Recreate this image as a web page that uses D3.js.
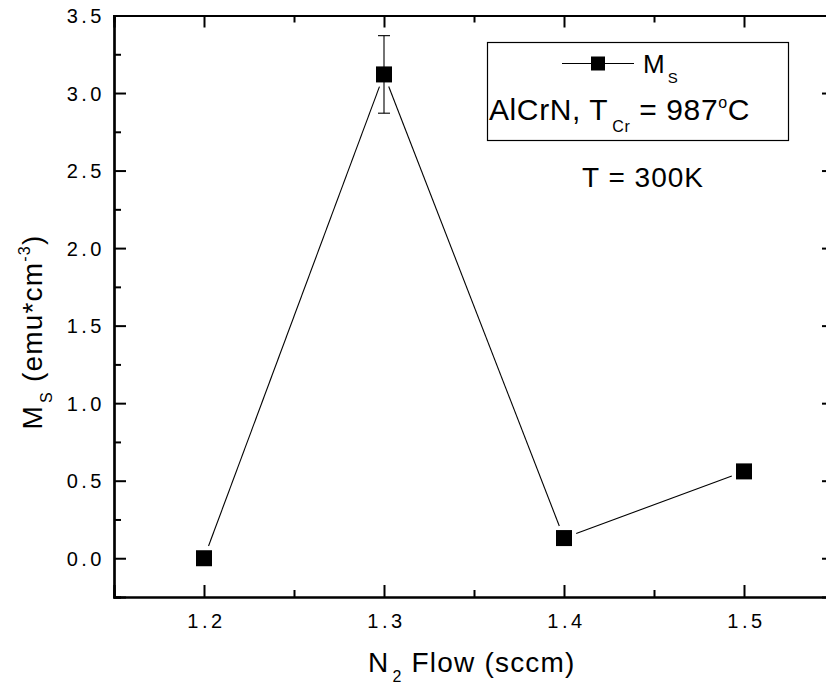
<!DOCTYPE html>
<html><head><meta charset="utf-8">
<script src="https://cdn.jsdelivr.net/npm/d3@7"></script>
<style>body{margin:0;background:#fff}text{font-family:"Liberation Sans",Arial,sans-serif;fill:#000}</style>
</head><body><svg id="c" width="826" height="687"></svg>
<script>
const flows = [1.2, 1.3, 1.4, 1.5];
const ms = [0.0, 3.12, 0.13, 0.56];
const msErr = [0, 0.25, 0, 0];
const xTicks = [1.2, 1.3, 1.4, 1.5];
const yTicks = [0.0, 0.5, 1.0, 1.5, 2.0, 2.5, 3.0, 3.5];

const svg = d3.select("#c");
const L = 114, R = 834, T = 15.5, B = 597;
const x = d3.scaleLinear().domain([1.15, 1.55]).range([L, R]);
const y = d3.scaleLinear().domain([-0.25, 3.5]).range([B, T]);
const FF = "'Liberation Sans',Arial,sans-serif";

const g = svg.append("g");
const ax = g.append("g").attr("transform", `translate(0,${B})`)
  .call(d3.axisBottom(x).tickValues(xTicks).tickFormat(d3.format(".1f")).tickSize(-12).tickPadding(0));
g.append("g").attr("transform", `translate(0,${T})`)
  .call(d3.axisTop(x).tickValues(xTicks).tickFormat("").tickSize(-12));
const ay = g.append("g").attr("transform", `translate(${L},0)`)
  .call(d3.axisLeft(y).tickValues(yTicks).tickFormat(d3.format(".1f")).tickSize(-12).tickPadding(0));
g.append("g").attr("transform", `translate(${R},0)`)
  .call(d3.axisRight(y).tickValues(yTicks).tickFormat("").tickSize(-12));
const xMinor = [1.25, 1.35, 1.45];
const yMinor = [-0.25, 0.25, 0.75, 1.25, 1.75, 2.25, 2.75, 3.25];
g.append("g").attr("transform", `translate(0,${B})`).call(d3.axisBottom(x).tickValues(xMinor).tickFormat("").tickSize(-7));
g.append("g").attr("transform", `translate(0,${T})`).call(d3.axisTop(x).tickValues(xMinor).tickFormat("").tickSize(-7));
g.append("g").attr("transform", `translate(${L},0)`).call(d3.axisLeft(y).tickValues(yMinor).tickFormat("").tickSize(-7));
g.append("g").attr("transform", `translate(${R},0)`).call(d3.axisRight(y).tickValues(yMinor).tickFormat("").tickSize(-7));
g.selectAll(".domain").attr("stroke", "#000").attr("stroke-width", 2.2);
g.selectAll(".tick line").attr("stroke", "#000").attr("stroke-width", 2);
g.selectAll("g").attr("font-size", null).attr("font-family", null);
ax.selectAll(".tick text").attr("y", 0).attr("dy", 0).attr("transform", "translate(2,31)")
  .style("font-size", "20px").style("letter-spacing", "3.5px").style("font-family", FF);
ay.selectAll(".tick text").attr("x", 0).attr("dy", 0).attr("transform", "translate(-9,7)")
  .style("font-size", "20px").style("letter-spacing", "3.5px").style("font-family", FF);

// data line with gaps
const pts = flows.map((f, i) => [x(f), y(ms[i])]);
const gap = 13;
for (let i = 0; i < pts.length - 1; i++) {
  const [x1, y1] = pts[i], [x2, y2] = pts[i + 1];
  const d = Math.hypot(x2 - x1, y2 - y1), ux = (x2 - x1) / d, uy = (y2 - y1) / d;
  svg.append("line").attr("x1", x1 + ux * gap).attr("y1", y1 + uy * gap)
    .attr("x2", x2 - ux * gap).attr("y2", y2 - uy * gap)
    .attr("stroke", "#000").attr("stroke-width", 1.1);
}
flows.forEach((f, i) => {
  if (!msErr[i]) return;
  const cx = x(f), t = y(ms[i] + msErr[i]), b = y(ms[i] - msErr[i]);
  svg.append("line").attr("x1", cx).attr("x2", cx).attr("y1", t).attr("y2", b).attr("stroke", "#000").attr("stroke-width", 1.1);
  [t, b].forEach(yy => svg.append("line").attr("x1", cx - 6).attr("x2", cx + 6).attr("y1", yy).attr("y2", yy).attr("stroke", "#000").attr("stroke-width", 1.1));
});
svg.selectAll("rect.m").data(flows).enter().append("rect")
  .attr("x", (d, i) => x(d) - 8).attr("y", (d, i) => y(ms[i]) - 8)
  .attr("width", 16).attr("height", 16).attr("fill", "#000");

// legend box
svg.append("rect").attr("x", 487.5).attr("y", 42.5).attr("width", 301).attr("height", 98)
  .attr("fill", "none").attr("stroke", "#000").attr("stroke-width", 1.2);
svg.append("line").attr("x1", 562).attr("x2", 634).attr("y1", 63.5).attr("y2", 63.5).attr("stroke", "#000").attr("stroke-width", 1.1);
svg.append("rect").attr("x", 591).attr("y", 56.5).attr("width", 14).attr("height", 14).attr("fill", "#000");
const lt = svg.append("text").attr("x", 643).attr("y", 73).style("font-size", "26px");
lt.append("tspan").text("M");
lt.append("tspan").attr("dy", 10).attr("dx", 3).style("font-size", "15px").text("S");
const t2 = svg.append("text").attr("x", 489).attr("y", 120).style("font-size", "30px").style("letter-spacing", "0.6px");
t2.append("tspan").text("AlCrN, T");
t2.append("tspan").attr("dy", 12).attr("dx", 4).style("font-size", "16px").text("Cr");
t2.append("tspan").attr("dy", -12).text(" = 987");
t2.append("tspan").attr("dy", -12).style("font-size", "16px").text("o");
t2.append("tspan").attr("dy", 12).text("C");
svg.append("text").attr("x", 643).attr("y", 187).attr("text-anchor", "middle").style("font-size", "28px").style("letter-spacing", "1px").text("T = 300K");

// axis titles
const xt = svg.append("text").attr("x", 368).attr("y", 672).style("font-size", "28px").style("letter-spacing", "1.2px");
xt.append("tspan").text("N");
xt.append("tspan").attr("dy", 10).attr("dx", 3).style("font-size", "16px").text("2");
xt.append("tspan").attr("dy", -10).text(" Flow (sccm)");
const yt = svg.append("text").attr("transform", "translate(42,332) rotate(-90)").attr("text-anchor", "middle").style("font-size", "28px").style("letter-spacing", "1.2px");
yt.append("tspan").text("M");
yt.append("tspan").attr("dy", 10).attr("dx", 2).style("font-size", "16px").text("S");
yt.append("tspan").attr("dy", -10).text(" (emu*cm");
yt.append("tspan").attr("dy", -12).style("font-size", "16px").text("-3");
yt.append("tspan").attr("dy", 12).text(")");
</script></body></html>
